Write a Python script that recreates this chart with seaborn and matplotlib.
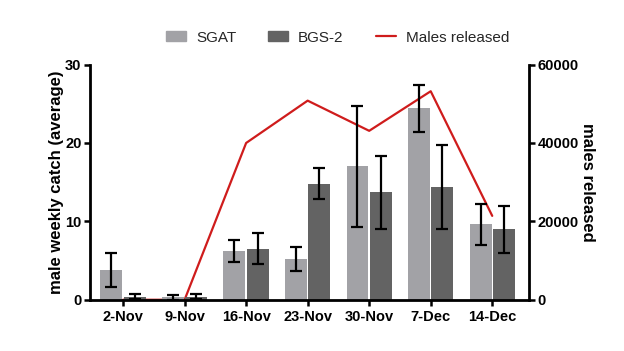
import numpy as np
import pandas as pd
import matplotlib
matplotlib.use('Agg')
import matplotlib.pyplot as plt
import seaborn as sns
from matplotlib.patches import Patch
from matplotlib.lines import Line2D

# data
dates = ['2-Nov', '9-Nov', '16-Nov', '23-Nov', '30-Nov', '7-Dec', '14-Dec']
sgat_mean = [3.8, 0.3, 6.2, 5.2, 17.0, 24.4, 9.6]
sgat_err = [2.2, 0.3, 1.4, 1.5, 7.7, 3.0, 2.6]
bgs_mean = [0.4, 0.4, 6.5, 14.8, 13.7, 14.4, 9.0]
bgs_err = [0.3, 0.3, 2.0, 2.0, 4.7, 5.4, 3.0]
released = [0, 0, 40000, 50800, 43100, 53200, 21400]

sns.set_theme(style='ticks')
plt.rcParams['font.family'] = ['Liberation Sans', 'DejaVu Sans']

df = pd.DataFrame({
    'date': dates * 2,
    'catch': sgat_mean + bgs_mean,
    'trap': ['SGAT'] * len(dates) + ['BGS-2'] * len(dates),
})

c_sgat = '#a2a2a6'
c_bgs = '#636363'
c_red = '#cf1c1c'

fig = plt.figure(figsize=(6.24, 3.51), dpi=100)
ax = fig.add_axes([0.144, 0.146, 0.704, 0.67])
ax2 = ax.twinx()

sns.barplot(data=df, x='date', y='catch', hue='trap', order=dates,
            hue_order=['SGAT', 'BGS-2'], palette=[c_sgat, c_bgs],
            width=0.76, gap=0.06, errorbar=None, linewidth=0,
            saturation=1, legend=False, ax=ax)

# error bars on top of the seaborn bars
for cont, err in zip(ax.containers, [sgat_err, bgs_err]):
    xs = [b.get_x() + b.get_width() / 2 for b in cont]
    ys = [b.get_height() for b in cont]
    ax.errorbar(xs, ys, yerr=err, fmt='none', ecolor='black',
                elinewidth=1.6, capsize=4.5, capthick=1.6, zorder=5)

sns.lineplot(x=np.arange(len(dates)), y=released, color=c_red,
             linewidth=1.6, ax=ax2)

# bars in front of the line
ax.set_zorder(ax2.get_zorder() + 1)
ax.patch.set_visible(False)

ax.set_xlim(-0.54, 6.6)
ax.set_ylim(0, 30)
ax.set_yticks([0, 10, 20, 30])
ax2.set_ylim(0, 60000)
ax2.set_yticks([0, 20000, 40000, 60000])

ax.set_xlabel('')
ax.set_ylabel('male weekly catch (average)', fontsize=12, fontweight='bold',
              labelpad=1, color='black')
ax2.set_ylabel('males released', fontsize=12, fontweight='bold', rotation=270,
               labelpad=12, color='black')

for a in (ax, ax2):
    a.spines['top'].set_visible(False)
    for s in ('left', 'right', 'bottom'):
        a.spines[s].set_linewidth(2)
        a.spines[s].set_color('black')
    a.tick_params(width=1.8, length=4.5, pad=1.5, labelsize=10.5, colors='black')
    for lab in a.get_xticklabels() + a.get_yticklabels():
        lab.set_fontweight('bold')
ax.tick_params(axis='x', pad=3)
ax.spines['right'].set_visible(False)
ax2.spines['left'].set_visible(False)
ax2.spines['bottom'].set_visible(False)

handles = [Patch(color=c_sgat, label='SGAT'), Patch(color=c_bgs, label='BGS-2'),
           Line2D([], [], color=c_red, linewidth=1.6, label='Males released')]
fig.legend(handles=handles, loc='center', bbox_to_anchor=(0.541, 0.893), ncol=3,
           frameon=False, fontsize=11, handlelength=1.3, handleheight=0.6,
           handletextpad=0.65, columnspacing=2.1)

fig.savefig('out.png', dpi=100)
